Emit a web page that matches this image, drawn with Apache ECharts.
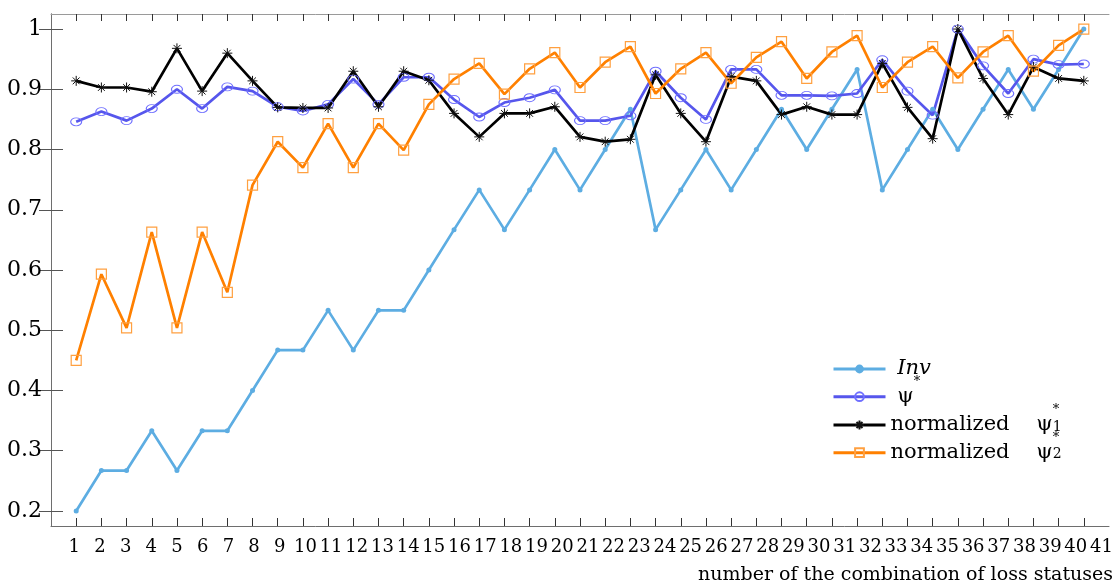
<!DOCTYPE html>
<html>
<head>
<meta charset="utf-8">
<script src="https://cdn.jsdelivr.net/npm/echarts@6/dist/echarts.min.js"></script>
<style>
  html, body { margin: 0; padding: 0; background: #fff; }
  #chart { width: 1116px; height: 588px; }
</style>
</head>
<body>
<div id="chart"></div>
<script>
// combination index (x)
const combos = [1, 2, 3, 4, 5, 6, 7, 8, 9, 10, 11, 12, 13, 14, 15, 16, 17, 18, 19, 20,
  21, 22, 23, 24, 25, 26, 27, 28, 29, 30, 31, 32, 33, 34, 35, 36, 37, 38, 39, 40, 41];

const invValues = [0.2, 0.267, 0.267, 0.333, 0.267, 0.333, 0.333, 0.4, 0.467, 0.467,
  0.533, 0.467, 0.533, 0.533, 0.6, 0.667, 0.733, 0.667, 0.733, 0.8,
  0.733, 0.8, 0.867, 0.667, 0.733, 0.8, 0.733, 0.8, 0.867, 0.8,
  0.867, 0.933, 0.733, 0.8, 0.867, 0.8, 0.867, 0.933, 0.867, 0.933, 1.0];

const psiValues = [0.846, 0.863, 0.848, 0.868, 0.9, 0.868, 0.904, 0.897, 0.871, 0.864,
  0.875, 0.917, 0.875, 0.92, 0.92, 0.883, 0.854, 0.878, 0.886, 0.899,
  0.848, 0.848, 0.856, 0.93, 0.886, 0.85, 0.933, 0.933, 0.89, 0.89,
  0.889, 0.893, 0.949, 0.897, 0.857, 1.0, 0.939, 0.893, 0.95, 0.941, 0.942];

const norm1Values = [0.914, 0.903, 0.903, 0.896, 0.968, 0.897, 0.96, 0.914, 0.87, 0.869,
  0.869, 0.93, 0.871, 0.93, 0.915, 0.86, 0.821, 0.86, 0.86, 0.871,
  0.821, 0.813, 0.817, 0.924, 0.86, 0.813, 0.921, 0.914, 0.858, 0.871,
  0.858, 0.858, 0.943, 0.87, 0.818, 1.0, 0.918, 0.858, 0.937, 0.918, 0.914];

const norm2Values = [0.45, 0.593, 0.504, 0.663, 0.504, 0.663, 0.563, 0.741, 0.813, 0.77,
  0.843, 0.77, 0.843, 0.799, 0.875, 0.917, 0.943, 0.892, 0.934, 0.961,
  0.903, 0.945, 0.971, 0.893, 0.934, 0.961, 0.91, 0.953, 0.979, 0.918,
  0.962, 0.989, 0.903, 0.945, 0.971, 0.919, 0.962, 0.989, 0.93, 0.973, 1.0];

const yTicks = [0.2, 0.3, 0.4, 0.5, 0.6, 0.7, 0.8, 0.9, 1];
const xLabels = combos;

const SERIF = "DejaVu Serif";
const chart = echarts.init(document.getElementById("chart"));

const toPairs = (vals) => combos.map((c, i) => [c, vals[i]]);
const asterisk = "path://M5,0L5,10M0,5L10,5M1.6,1.6L8.4,8.4M1.6,8.4L8.4,1.6";

// legend text (rich, with super/subscripts)
const legendText = {
  "Inv": " {it|Inv}",
  "ψ*": " {g|ψ}{sp2|*}",
  "normalized ψ1*": "normalized    {g|ψ}{sp3|*}{sb|1}",
  "normalized ψ2*": "normalized    {g|ψ}{sp4|*}{sb|2}"
};
const rich = {
  it: { fontFamily: SERIF, fontStyle: "italic", fontSize: 21, lineHeight: 44 },
  g: { fontFamily: SERIF, fontSize: 21, lineHeight: 44 },
  sp2: { fontFamily: SERIF, fontSize: 13, verticalAlign: "top", lineHeight: 16 },
  sp3: { fontFamily: SERIF, fontSize: 13, verticalAlign: "top", lineHeight: 8, width: 0.01 },
  sp4: { fontFamily: SERIF, fontSize: 13, verticalAlign: "top", lineHeight: 20, width: 0.01 },
  sb: { fontFamily: SERIF, fontSize: 14, verticalAlign: "middle", lineHeight: 44, padding: [4, 0, 0, 0] }
};
const legendRow = (name, centerY) => ({
  data: [name],
  orient: "vertical",
  left: 827,
  top: centerY - 27,
  itemWidth: 52,
  itemHeight: 11,
  lineStyle: { width: 3 },
  formatter: (n) => legendText[n],
  textStyle: { fontFamily: SERIF, fontSize: 21, lineHeight: 44, color: "#000", rich }
});

const option = {
  animation: false,
  backgroundColor: "#fff",
  textStyle: { fontFamily: SERIF },
  grid: [
    { left: 51, top: 14, right: 7, bottom: 62 },
    { left: 48.6, top: 14, right: 14.5, bottom: 62 }
  ],
  legend: [
    legendRow("Inv", 369),
    legendRow("ψ*", 396.7),
    legendRow("normalized ψ1*", 425),
    legendRow("normalized ψ2*", 452.7)
  ],
  xAxis: [
    {
      type: "value",
      gridIndex: 0,
      min: 0,
      max: 42,
      position: "bottom",
      axisLine: { lineStyle: { color: "#6e6e6e", width: 1 } },
      axisTick: { inside: true, length: 8, customValues: combos, lineStyle: { color: "#333" } },
      axisLabel: { show: false },
      splitLine: { show: false },
      name: "number of the combination of loss statuses",
      nameLocation: "end",
      nameGap: 4,
      nameTextStyle: { fontFamily: SERIF, fontSize: 19, color: "#000", align: "right", verticalAlign: "top", padding: [40, 0, 0, 0] }
    },
    {
      type: "value",
      gridIndex: 0,
      min: 0,
      max: 42,
      position: "top",
      axisLine: { lineStyle: { color: "#9a9a9a", width: 1 } },
      axisTick: { inside: true, length: 7, customValues: combos, lineStyle: { color: "#333" } },
      axisLabel: { show: false },
      splitLine: { show: false }
    },
    {
      // tick labels (spaced slightly wider than the ticks, as in the source figure)
      type: "value",
      gridIndex: 1,
      min: 0,
      max: 41,
      axisLine: { show: false },
      axisTick: { show: false },
      splitLine: { show: false },
      axisLabel: { customValues: xLabels, margin: 12, fontFamily: SERIF, fontSize: 18, color: "#000" }
    }
  ],
  yAxis: [
    {
      type: "value",
      gridIndex: 0,
      min: 0.175,
      max: 1.025,
      axisLine: { show: true, lineStyle: { color: "#6e6e6e", width: 1 } },
      axisTick: { show: true, inside: true, length: 12, customValues: yTicks, lineStyle: { color: "#555" } },
      axisLabel: { customValues: yTicks, margin: 9, fontFamily: SERIF, fontSize: 22, color: "#000" },
      splitLine: { show: false }
    },
    {
      type: "value",
      gridIndex: 0,
      position: "right",
      min: 0.175,
      max: 1.025,
      axisLine: { show: true, lineStyle: { color: "#6e6e6e", width: 1 } },
      axisTick: { show: true, inside: true, length: 12, customValues: yTicks, lineStyle: { color: "#555" } },
      axisLabel: { show: false },
      splitLine: { show: false }
    },
    { type: "value", gridIndex: 1, show: false, min: 0, max: 1 }
  ],
  series: [
    {
      name: "Inv",
      type: "line",
      data: toPairs(invValues),
      showAllSymbol: true,
      symbol: "circle",
      symbolSize: 5,
      lineStyle: { color: "#5dade2", width: 2.7 },
      itemStyle: { color: "#5dade2" }
    },
    {
      name: "ψ*",
      type: "line",
      data: toPairs(psiValues),
      showAllSymbol: true,
      symbol: "circle",
      symbolSize: [11, 8],
      lineStyle: { color: "#5656ec", width: 2.7 },
      itemStyle: { color: "rgba(255,255,255,0)", borderColor: "#6f6fff", borderWidth: 1 }
    },
    {
      name: "normalized ψ1*",
      type: "line",
      data: toPairs(norm1Values),
      showAllSymbol: true,
      symbol: asterisk,
      symbolSize: 10,
      lineStyle: { color: "#000", width: 2.7 },
      itemStyle: { color: "rgba(0,0,0,0)", borderColor: "#111", borderWidth: 1 }
    },
    {
      name: "normalized ψ2*",
      type: "line",
      data: toPairs(norm2Values),
      showAllSymbol: true,
      symbol: "rect",
      symbolSize: 10,
      lineStyle: { color: "#ff8000", width: 2.7 },
      itemStyle: { color: "rgba(255,255,255,0)", borderColor: "#ffa040", borderWidth: 1.2 }
    }
  ]
};

chart.setOption(option);
</script>
</body>
</html>
